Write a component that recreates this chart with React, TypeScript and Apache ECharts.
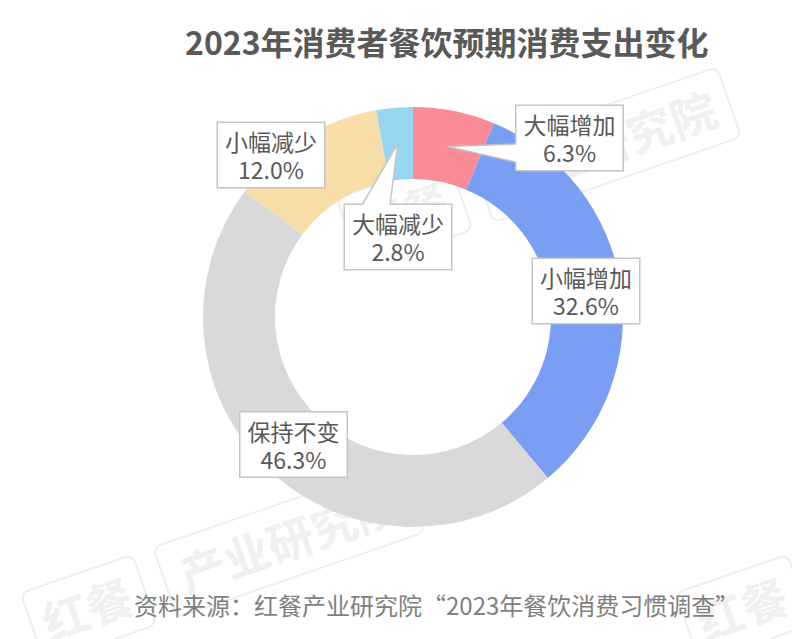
import React, { useEffect, useRef } from "react";
import * as echarts from "echarts";

const categories = ["大幅增加", "小幅增加", "保持不变", "小幅减少", "大幅减少"];
const values = [6.3, 32.6, 46.3, 12.0, 2.8];
const colors = ["#F98C97", "#7B9EF5", "#D9D9D9", "#F8DDA8", "#96D6F0"];

const TITLE = "2023年消费者餐饮预期消费支出变化";
const SOURCE = "资料来源：红餐产业研究院“2023年餐饮消费习惯调查”";

// layout (pixels)
const CX = 413;
const CY = 317;
const R_IN = 138;
const R_OUT = 210;
const BOX_W = 108;
const BOX_H = 64;
const labelCenters: [number, number][] = [
  [569.5, 138],
  [586, 291],
  [293.5, 444.5],
  [271, 155],
  [398, 237],
];
// callout wedges: index, side of box, base start & end along that side
const callouts = [
  { index: 0, side: "left", from: 144, to: 162 },
  { index: 4, side: "top", from: 362, to: 390 },
];

const FONT = "'Noto Sans CJK SC', 'Noto Sans', sans-serif";
const BORDER = "#C4C4C4";
const TEXT = "#595959";

function centroid(i: number): [number, number] {
  const total = values.reduce((a, b) => a + b, 0);
  let cum = 0;
  for (let k = 0; k < i; k++) cum += values[k];
  const mid = (cum + values[i] / 2) / total;
  const th = mid * Math.PI * 2;
  const r = (R_IN + R_OUT) / 2;
  return [CX + r * Math.sin(th), CY - r * Math.cos(th)];
}

function wedgeGraphics() {
  const els: any[] = [];
  callouts.forEach((c) => {
    const [lx, ly] = labelCenters[c.index];
    const tip = centroid(c.index);
    let a: number[], b: number[], ai: number[], bi: number[];
    if (c.side === "left") {
      const x = lx - BOX_W / 2;
      a = [x, c.from];
      b = [x, c.to];
      ai = [x + 2, c.from + 0.8];
      bi = [x + 2, c.to - 0.8];
    } else {
      const y = ly - BOX_H / 2;
      a = [c.from, y];
      b = [c.to, y];
      ai = [c.from + 0.8, y + 2];
      bi = [c.to - 0.8, y + 2];
    }
    els.push({
      type: "polygon",
      z: 100,
      shape: { points: [ai, a, tip, b, bi] },
      style: { fill: "#ffffff", stroke: "none" },
      silent: true,
    });
    els.push({
      type: "polyline",
      z: 101,
      shape: { points: [a, tip, b] },
      style: { stroke: BORDER, lineWidth: 1.5, fill: "none" },
      silent: true,
    });
  });
  return els;
}

function watermark(x: number, y: number) {
  const fill = "rgba(215,215,215,0.4)";
  const stroke = "rgba(205,205,205,0.35)";
  return {
    type: "group",
    x,
    y,
    rotation: (19 * Math.PI) / 180,
    z: 200,
    silent: true,
    children: [
      {
        type: "rect",
        shape: { x: -12, y: -58, width: 118, height: 74, r: 8 },
        style: { fill: "none", stroke, lineWidth: 2 },
      },
      {
        type: "text",
        x: 0,
        y: 0,
        style: {
          text: "红餐",
          font: `bold 46px ${FONT}`,
          fill,
          textVerticalAlign: "bottom",
        },
      },
      {
        type: "rect",
        shape: { x: 128, y: -58, width: 262, height: 74, r: 8 },
        style: { fill: "none", stroke, lineWidth: 2 },
      },
      {
        type: "text",
        x: 145,
        y: 0,
        style: {
          text: "产业研究院",
          font: `bold 46px ${FONT}`,
          fill,
          textVerticalAlign: "bottom",
        },
      },
    ],
  };
}

export default function App() {
  const ref = useRef<HTMLDivElement>(null);
  useEffect(() => {
    if (!ref.current) return;
    const chart = echarts.init(ref.current, null, { renderer: "svg" });
    chart.setOption({
      animation: false,
      backgroundColor: "#ffffff",
      title: {
        text: TITLE,
        left: 180,
        top: 20,
        textStyle: {
          fontFamily: FONT,
          fontSize: 32,
          fontWeight: "bold",
          color: "#595959",
        },
      },
      series: [
        {
          type: "pie",
          center: [CX, CY],
          radius: [R_IN, R_OUT],
          startAngle: 90,
          clockwise: true,
          avoidLabelOverlap: false,
          silent: true,
          data: categories.map((name, i) => ({
            name,
            value: values[i],
            itemStyle: { color: colors[i] },
          })),
          label: {
            show: true,
            position: "inside",
            formatter: (p: any) => `${p.name}\n${Number(p.value).toFixed(1)}%`,
            fontFamily: FONT,
            fontSize: 23,
            lineHeight: 28,
            color: TEXT,
            backgroundColor: "#ffffff",
            borderColor: BORDER,
            borderWidth: 1.5,
            padding: [4, 7],
            align: "center",
          },
          labelLine: { show: false },
          labelLayout: (params: any) => {
            const c = labelCenters[params.dataIndex];
            return {
              x: c[0],
              y: c[1],
              align: "center",
              verticalAlign: "middle",
            };
          },
        },
      ],
      graphic: [
        ...wedgeGraphics(),
        {
          type: "text",
          x: 134,
          y: 604,
          z: 50,
          style: {
            text: SOURCE,
            font: `24px ${FONT}`,
            fill: "#7F7F7F",
            textVerticalAlign: "middle",
          },
        },
        watermark(367, 249),
        watermark(51, 644),
        watermark(706, 644),
      ],
    });
    return () => chart.dispose();
  }, []);
  return (
    <div
      ref={ref}
      style={{ position: "absolute", left: 0, top: 0, width: 792, height: 639 }}
    />
  );
}
